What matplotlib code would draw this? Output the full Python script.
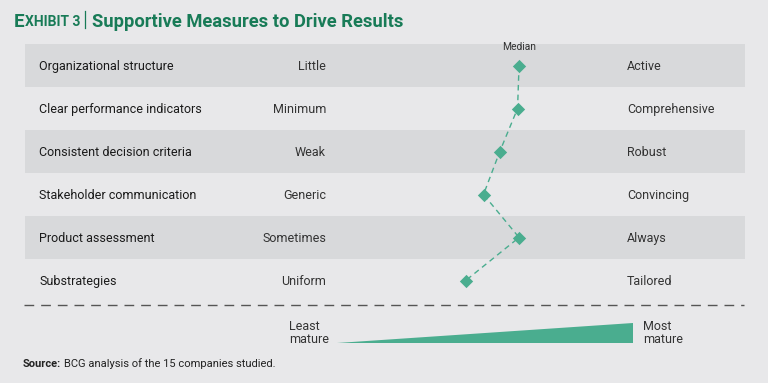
import matplotlib
matplotlib.use('Agg')
import matplotlib.pyplot as plt
import numpy as np

# ==== data ====
categories = ["Organizational structure", "Clear performance indicators",
              "Consistent decision criteria", "Stakeholder communication",
              "Product assessment", "Substrategies"]
low_labels = ["Little", "Minimum", "Weak", "Generic", "Sometimes", "Uniform"]
high_labels = ["Active", "Comprehensive", "Robust", "Convincing", "Always", "Tailored"]
median_score = [61.5, 61.0, 55.0, 49.5, 61.5, 43.5]   # 0 = least mature, 100 = most mature

BG = "#e8e8ea"
BAND = "#d8d9db"
GREEN = "#4aad8f"
TITLE_GREEN = "#187b57"
TEXT = "#333333"
FONT = ["Roboto", "DejaVu Sans"]

plt.rcParams['font.family'] = FONT

W, H = 768, 383
fig = plt.figure(figsize=(W / 100, H / 100), dpi=100)
fig.patch.set_facecolor(BG)

def fx(px):
    return px / W

def fy(py):
    return 1 - py / H

# main rows axes: x in maturity score, y in row index
top, bottom = 44, 302
ax = fig.add_axes([fx(25), fy(bottom), fx(745) - fx(25), (bottom - top) / H])
ax.set_facecolor(BG)
px_per_unit = (633 - 337) / 100
ax.set_xlim((25 - 337) / px_per_unit, (745 - 337) / px_per_unit)
n = len(categories)
ax.set_ylim(n - 0.5, -0.5)
ax.axis('off')

rows = np.arange(n)
for i in rows:
    if i % 2 == 0:
        ax.axhspan(i - 0.5, i + 0.5, color=BAND, zorder=0, lw=0)

ax.plot(median_score, rows, ls=(0, (4, 3)), color=GREEN, lw=1, zorder=2)
ax.scatter(median_score, rows, marker='D', s=46, color=GREEN, zorder=3, lw=0)
ax.text(median_score[0], -0.31, "Median", ha='center', va='bottom',
        fontsize=7.4, color=TEXT)

tr = ax.get_yaxis_transform()
for i in rows:
    ax.text((39 - 25) / 720, i + 0.02, categories[i], transform=tr, ha='left', va='center',
            fontsize=9, color="#1a1a1a")
    ax.text((326 - 25) / 720, i + 0.02, low_labels[i], transform=tr, ha='right', va='center',
            fontsize=9, color=TEXT)
    ax.text((627 - 25) / 720, i + 0.02, high_labels[i], transform=tr, ha='left', va='center',
            fontsize=9, color=TEXT)

# overlay axes in pixel coordinates for title, separator, legend, source
ov = fig.add_axes([0, 0, 1, 1])
ov.set_xlim(0, W)
ov.set_ylim(H, 0)
ov.axis('off')
ov.patch.set_alpha(0)

# title with small caps
fig.canvas.draw()
r = fig.canvas.get_renderer()
x = 14
t = ov.text(x, 20, "E", fontsize=13.5, fontweight='bold', color=TITLE_GREEN, va='center_baseline')
x += t.get_window_extent(r).width
t = ov.text(x, 20, "XHIBIT 3", fontsize=10, fontweight='bold', color=TITLE_GREEN, va='center_baseline')
x += t.get_window_extent(r).width + 5
ov.plot([x, x], [11, 28], color=TITLE_GREEN, lw=0.9)
x += 7
ov.text(x, 20, "Supportive Measures to Drive Results", fontsize=13.2, fontweight='bold',
        color=TITLE_GREEN, va='center_baseline')

# dashed separator
ov.plot([24, 744], [305, 305], color="#555555", lw=1, ls=(0, (7, 5)))

# maturity wedge drawn on the score scale
lg = fig.add_axes([fx(337), fy(343), fx(633) - fx(337), (343 - 323) / H])
lg.set_xlim(0, 100)
lg.set_ylim(0, 1)
lg.axis('off')
lg.fill([0, 100, 100], [0, 0, 1], color=GREEN, lw=0)

ov.text(289, 333, "Least\nmature", ha='left', va='center', fontsize=9, color=TEXT,
        linespacing=1.05)
ov.text(643, 333, "Most\nmature", ha='left', va='center', fontsize=9, color=TEXT,
        linespacing=1.05)

t = ov.text(23, 364, "Source:", fontsize=8, fontweight='bold', va='center', color="#222222")
sw = t.get_window_extent(r).width
ov.text(23 + sw + 3, 364, "BCG analysis of the 15 companies studied.", fontsize=8,
        va='center', color="#222222")

fig.savefig("out.png", dpi=100, facecolor=BG)
